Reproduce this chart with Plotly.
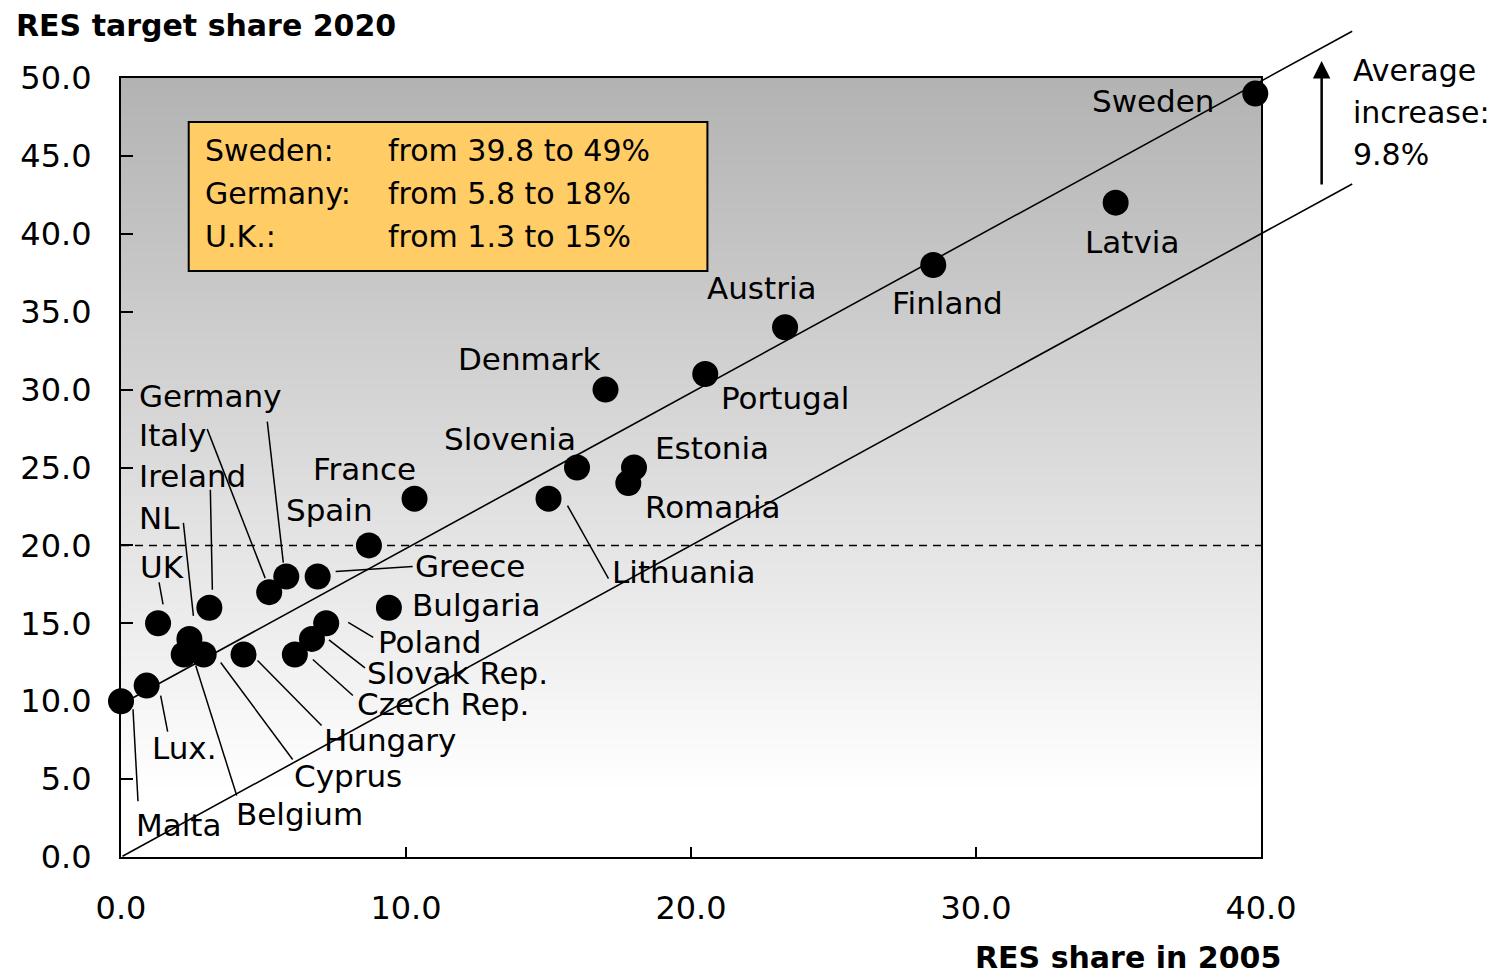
import plotly.graph_objects as go

# ---------------- data ----------------
countries = ["Sweden", "Latvia", "Finland", "Austria", "Portugal", "Denmark", "Estonia",
             "Romania", "Slovenia", "Lithuania", "France", "Spain", "Greece", "Germany",
             "Italy", "Ireland", "NL", "UK", "Poland", "Slovak Rep.", "Czech Rep.",
             "Hungary", "Cyprus", "Belgium", "Lux.", "Malta", "Bulgaria"]
res_2005 = [39.8, 34.9, 28.5, 23.3, 20.5, 17.0, 18.0,
            17.8, 16.0, 15.0, 10.3, 8.7, 6.9, 5.8,
            5.2, 3.1, 2.4, 1.3, 7.2, 6.7, 6.1,
            4.3, 2.9, 2.2, 0.9, 0.0, 9.4]
target_2020 = [49, 42, 38, 34, 31, 30, 25,
               24, 25, 23, 23, 20, 18, 18,
               17, 16, 14, 15, 15, 14, 13,
               13, 13, 13, 11, 10, 16]
highlight = [("Sweden:", "Sweden"), ("Germany:", "Germany"), ("U.K.:", "UK")]
avg_increase = 9.8
reference_level = 20.0
x_ticks = [0, 10, 20, 30, 40]
y_ticks = [0, 5, 10, 15, 20, 25, 30, 35, 40, 45, 50]
x_title = "RES share in 2005"
y_title = "RES target share 2020"

# ---------------- label layout (pixel offsets from each dot; +y = up) ----------------
label_pos = {
    "Sweden": ("right", -38, -7), "Latvia": ("center", 16, -39), "Finland": ("center", 14, -38),
    "Austria": ("center", -23, 39), "Portugal": ("left", 14, -24), "Denmark": ("right", -3, 31),
    "Estonia": ("left", 19, 20), "Romania": ("left", 15, -24), "Slovenia": ("right", 1, 29),
    "Lithuania": ("left", 61, -73), "France": ("right", 3, 30), "Spain": ("right", 6, 35),
    "Greece": ("left", 95, 11), "Germany": ("left", -149, 181), "Italy": ("left", -132, 157),
    "Ireland": ("left", -72, 132), "NL": ("left", -52, 121), "UK": ("left", -20, 56),
    "Poland": ("left", 50, -19), "Slovak Rep.": ("left", 53, -34), "Czech Rep.": ("left", 60, -50),
    "Hungary": ("left", 78, -86), "Cyprus": ("left", 88, -122), "Belgium": ("left", 50, -160),
    "Lux.": ("left", 3, -62), "Malta": ("left", 13, -124), "Bulgaria": ("left", 21, 3),
}
leaders = {
    "Lithuania": (19, -7, 60, -80), "Greece": (18, 5, 95, 10),
    "Germany": (-19, 155, -3, 14), "Italy": (-62, 163, -4, 14),
    "Ireland": (1, 118, 3, 18), "NL": (-6, 116, 4, 23), "UK": (1, 41, 5, 19),
    "Poland": (22, 1, 47, -14), "Slovak Rep.": (17, -1, 53, -29),
    "Czech Rep.": (18, -5, 58, -41), "Hungary": (14, -6, 78, -71),
    "Cyprus": (17, -8, 89, -105), "Belgium": (12, -11, 53, -141),
    "Lux.": (14, -10, 21, -46), "Malta": (12, -8, 17, -100),
}

FONT = "DejaVu Sans"
fig = go.Figure()

fig.add_trace(go.Scatter(
    x=res_2005, y=target_2020, mode="markers",
    marker=dict(size=26, color="black", line=dict(width=0)),
    cliponaxis=False, showlegend=False, hoverinfo="text", text=countries))

shapes = []
# gradient background
N = 80
for i in range(N):
    t = (i + 0.5) / N  # fraction from top
    v = int(round(min(255, 178 + 77 * t / 0.92)))
    shapes.append(dict(type="rect", xref="paper", yref="paper", x0=0, x1=1,
                       y0=1 - (i + 1) / N, y1=1 - i / N + 0.001,
                       fillcolor=f"rgb({v},{v},{v})", line=dict(width=0), layer="below"))
# dashed reference line
shapes.append(dict(type="line", xref="paper", yref="y", x0=0, x1=1,
                   y0=reference_level, y1=reference_level,
                   line=dict(color="black", width=1.5, dash="8px,6px")))
# leader lines
for c, (x0, y0, x1, y1) in leaders.items():
    i = countries.index(c)
    shapes.append(dict(type="line", xref="x", yref="y", xsizemode="pixel", ysizemode="pixel",
                       xanchor=res_2005[i], yanchor=target_2020[i],
                       x0=x0, y0=y0, x1=x1, y1=y1, line=dict(color="black", width=1.5)))
# highlight box
shapes.append(dict(type="rect", xref="paper", yref="paper", x0=0.0594, x1=0.5144,
                   y0=0.7522, y1=0.9435, fillcolor="#FFCC66",
                   line=dict(color="black", width=2)))

annotations = []
# country labels
for c, x, y in zip(countries, res_2005, target_2020):
    anchor, dx, dy = label_pos[c]
    annotations.append(dict(x=x, y=y, xref="x", yref="y", text=c, showarrow=False,
                            xanchor=anchor, yanchor="middle", xshift=dx, yshift=dy,
                            font=dict(family=FONT, size=31, color="black")))
# diagonal lines (extend beyond the plot area)
line_end = 43.2
for off in (0.0, avg_increase):
    annotations.append(dict(x=line_end, y=line_end + off, ax=0, ay=off, xref="x", yref="y",
                            axref="x", ayref="y", text="", showarrow=True, arrowhead=0,
                            arrowwidth=1.6, arrowcolor="black", standoff=0, startstandoff=0))
# average increase arrow (outside the plot area, paper coords)
annotations.append(dict(x=1.0532, y=1.0218, xref="paper", yref="paper",
                        ax=0, ay=125, axref="pixel", ayref="pixel", text="", showarrow=True,
                        arrowhead=2, arrowsize=1.4, arrowwidth=2.5, arrowcolor="black"))
for txt, yp in zip(["Average", "increase:", f"{avg_increase}%"], [1.009, 0.9563, 0.9024]):
    annotations.append(dict(x=1.0786, y=yp, xref="paper", yref="paper", text=txt,
                            showarrow=False, xanchor="left", yanchor="middle",
                            font=dict(family=FONT, size=30, color="black")))
# box text
for (lbl, c), yp in zip(highlight, [0.9063, 0.8511, 0.7959]):
    i = countries.index(c)
    annotations.append(dict(x=0.0716, y=yp, xref="paper", yref="paper", text=lbl,
                            showarrow=False, xanchor="left", yanchor="middle",
                            font=dict(family=FONT, size=30, color="black")))
    annotations.append(dict(x=0.2323, y=yp, xref="paper", yref="paper",
                            text=f"from {res_2005[i]} to {target_2020[i]}%",
                            showarrow=False, xanchor="left", yanchor="middle",
                            font=dict(family=FONT, size=30, color="black")))
# axis titles
annotations.append(dict(x=-0.094, y=1.0668, xref="paper", yref="paper", text=f"<b>{y_title}</b>",
                        showarrow=False, xanchor="left", yanchor="middle",
                        font=dict(family=FONT, size=30, color="black")))
annotations.append(dict(x=1.0192, y=-0.1284, xref="paper", yref="paper", text=f"<b>{x_title}</b>",
                        showarrow=False, xanchor="right", yanchor="middle",
                        font=dict(family=FONT, size=30, color="black")))

fig.update_layout(
    width=1498, height=968,
    margin=dict(l=108, r=245, t=70, b=119),
    paper_bgcolor="white", plot_bgcolor="white",
    shapes=shapes, annotations=annotations,
    font=dict(family=FONT, color="black"),
    xaxis=dict(range=[0, 40], tickvals=x_ticks, ticktext=[f"{v:.1f}" for v in x_ticks],
               ticks="inside", ticklen=10, tickwidth=1.5, tickcolor="black",
               showline=True, linecolor="black", linewidth=2, mirror=True,
               showgrid=False, zeroline=False, ticklabelstandoff=22,
               tickfont=dict(family=FONT, size=32, color="black")),
    yaxis=dict(range=[0, 50], tickvals=y_ticks, ticktext=[f"{v:.1f}" for v in y_ticks],
               ticks="inside", ticklen=12, tickwidth=1.5, tickcolor="black",
               showline=True, linecolor="black", linewidth=2, mirror=True,
               showgrid=False, zeroline=False, ticklabelstandoff=21,
               tickfont=dict(family=FONT, size=32, color="black")),
)

fig.write_html("out.html")
